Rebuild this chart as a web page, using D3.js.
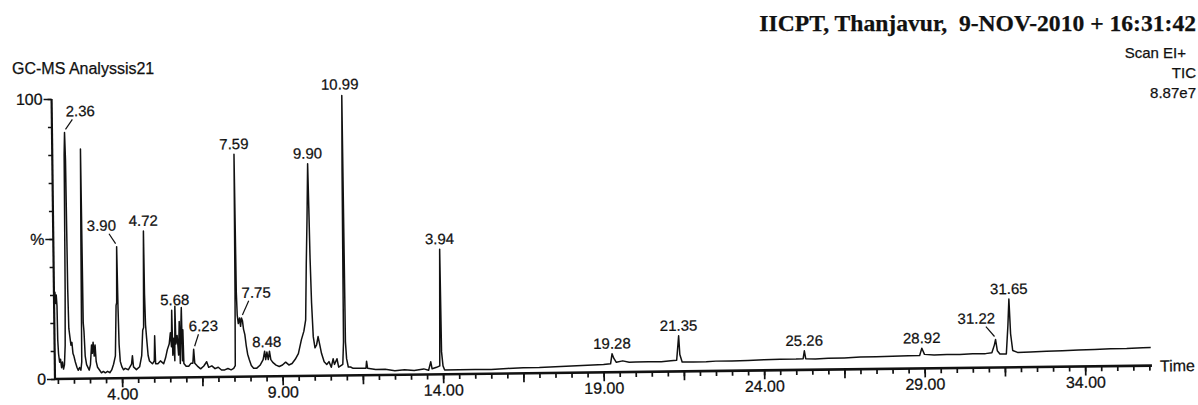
<!DOCTYPE html>
<html>
<head>
<meta charset="utf-8">
<script src="https://cdn.jsdelivr.net/npm/d3@7"></script>
<style>
  body { margin: 0; background: #fff; }
  svg { display: block; }
  text { fill: #111; stroke: #111; stroke-width: 0.25px; }
</style>
</head>
<body>
<div id="chart"></div>
<script>
// chromatogram trace: retention time (min) / relative abundance (%)
const traceTime = [
  1.92, 1.94, 1.96, 1.98, 2.00, 2.01, 2.03, 2.06, 2.09, 2.12, 2.15, 2.18, 2.21,
  2.24, 2.26, 2.28, 2.30, 2.32, 2.34, 2.36, 2.39, 2.42, 2.45, 2.48, 2.51, 2.55,
  2.60, 2.64, 2.68, 2.72, 2.75, 2.77, 2.79, 2.81, 2.83, 2.86, 2.90, 2.94, 2.98,
  3.02, 3.06, 3.08, 3.11, 3.14, 3.17, 3.20, 3.24, 3.30, 3.36, 3.42, 3.48, 3.55,
  3.62, 3.68, 3.74, 3.80, 3.84, 3.86, 3.88, 3.90, 3.92, 3.95, 4.00, 4.05, 4.10,
  4.20, 4.30, 4.33, 4.36, 4.45, 4.55, 4.62, 4.66, 4.69, 4.71, 4.72, 4.73, 4.75,
  4.78, 4.82, 4.86, 4.95, 5.01, 5.03, 5.05, 5.12, 5.20, 5.30, 5.36, 5.42, 5.48,
  5.52, 5.55, 5.57, 5.59, 5.62, 5.65, 5.67, 5.69, 5.73, 5.77, 5.80, 5.82, 5.85,
  5.87, 5.89, 5.91, 5.93, 6.00, 6.08, 6.15, 6.21, 6.24, 6.27, 6.35, 6.45, 6.55,
  6.64, 6.70, 6.80, 6.90, 7.00, 7.10, 7.20, 7.30, 7.40, 7.48, 7.53, 7.55, 7.57,
  7.59, 7.61, 7.64, 7.68, 7.71, 7.74, 7.77, 7.80, 7.84, 7.88, 7.92, 7.97, 8.03,
  8.10, 8.20, 8.30, 8.40, 8.45, 8.48, 8.52, 8.56, 8.60, 8.64, 8.70, 8.80, 8.90,
  9.00, 9.10, 9.20, 9.30, 9.40, 9.50, 9.60, 9.68, 9.74, 9.78, 9.82, 9.86, 9.88,
  9.90, 9.93, 9.97, 10.02, 10.07, 10.12, 10.17, 10.22, 10.30, 10.38, 10.45, 10.52,
  10.58, 10.62, 10.70, 10.75, 10.88, 10.91, 10.93, 10.95, 10.97, 11.00, 11.05,
  11.12, 11.20, 11.40, 11.60, 11.62, 11.65, 11.90, 12.20, 12.50, 12.80, 13.10,
  13.40, 13.55, 13.62, 13.66, 13.80, 13.90, 13.94, 13.96, 14.00, 14.05, 14.50,
  15.00, 15.50, 16.00, 16.50, 17.00, 17.50, 18.00, 18.50, 19.00, 19.22, 19.27,
  19.32, 19.40, 19.60, 19.80, 20.00, 20.40, 20.80, 21.10, 21.28, 21.35, 21.38,
  21.45, 21.80, 22.20, 22.50, 23.00, 23.50, 24.00, 24.50, 25.00, 25.22, 25.26,
  25.30, 25.60, 26.00, 26.50, 27.00, 27.50, 28.00, 28.50, 28.85, 28.92, 29.00,
  29.30, 29.70, 30.10, 30.50, 30.90, 31.10, 31.18, 31.22, 31.27, 31.35, 31.55,
  31.61, 31.65, 31.69, 31.75, 31.90, 32.30, 32.80, 33.30, 33.80, 34.30, 34.80,
  35.30, 35.80, 36.05
];
const traceAbund = [
  29, 31, 27, 30, 26, 14, 9, 6, 7, 4, 6, 3.5, 5,
  12, 32, 80, 88, 78, 32, 18, 15, 12, 13, 9, 8, 6,
  4, 3, 4, 3, 6, 50, 82, 20, 17, 8, 5, 4, 3,
  5, 12, 9, 13, 8, 12, 6, 4, 3, 2, 2.5, 2, 2.5,
  2, 3, 5, 8, 26, 27, 47, 25, 12, 6, 4, 3, 3.5,
  3, 5, 8, 4, 3, 4, 8, 17, 18, 43, 52.5, 30, 19,
  14, 8, 6, 5, 6, 15, 5, 5, 6, 5, 7, 10, 12,
  16, 11, 24, 8, 14, 6, 25.5, 12, 15, 8, 20, 5, 18,
  25, 6, 17, 5, 4, 4, 5, 5, 10, 5, 4, 3, 4,
  5.5, 3.5, 4, 3, 3.5, 2.5, 2.5, 3, 2.5, 3, 4, 30, 79.5,
  30, 22, 19, 21, 18, 21, 20, 17, 15, 11, 8, 6, 4,
  3, 3, 4, 6, 9, 6, 8.7, 6, 9, 6, 5, 4, 3.5,
  4, 5, 4, 4.5, 6, 8, 13, 16, 20, 40, 56, 75.8, 60,
  42, 26, 14, 10, 11, 14, 11, 8, 5, 4, 5, 3,
  6, 4, 6, 3, 4, 12, 73, 100, 12, 6, 3,
  3, 2.5, 2.5, 2.5, 5, 2.5, 2, 2, 1.5, 1.8, 1.5,
  2, 1.5, 4.5, 2, 2.5, 3, 44.7, 8, 3, 1.5, 1.5,
  1.6, 1.5, 1.8, 2, 2, 2.2, 2.4, 2.6, 2.8, 3, 6.6,
  5, 3.5, 4, 3.5, 3.5, 3.6, 3.5, 3.8, 4, 12.7, 6,
  3.3, 3.3, 3.3, 3.5, 3.5, 3.6, 3.8, 3.9, 3.9, 4, 6.8,
  4, 3.8, 4, 4.1, 4.3, 4.4, 4.5, 4.6, 4.6, 7.2, 5,
  4.7, 4.9, 4.8, 5, 5, 5.3, 8, 10, 6, 4.8, 4.8,
  15, 24.4, 12, 6, 5.3, 5.4, 5.6, 5.7, 5.9, 6, 6.2,
  6.2, 6.4, 6.5
];

// labelled peaks: printed label and the retention time of the peak it marks
const peakLabels = ["2.36", "3.90", "4.72", "5.68", "6.23", "7.59", "7.75", "8.48", "9.90",
                    "10.99", "3.94", "19.28", "21.35", "25.26", "28.92", "31.22", "31.65"];
const peakTimes  = [2.30, 3.88, 4.72, 5.67, 6.24, 7.57, 7.74, 8.52, 9.86,
                    10.95, 13.94, 19.27, 21.35, 25.26, 28.92, 31.22, 31.65];

const xTickValues = [4, 9, 14, 19, 24, 29, 34];
const xTickLabels = ["4.00", "9.00", "14.00", "19.00", "24.00", "29.00", "34.00"];
const yTickValues = [0, 50, 100];
const yTickLabels = ["0", "%", "100"];

const title = "IICPT, Thanjavur,  9-NOV-2010 + 16:31:42";
const runName = "GC-MS Analyssis21";
const scanInfo = ["Scan EI+", "TIC", "8.87e7"];

// ---- layout
const W = 1198, H = 405;
const origin = {x: 55, y: 379};
const plotW = 1097, plotH = 280;

const svg = d3.select("#chart").append("svg")
  .attr("width", W).attr("height", H)
  .style("font-family", "'Liberation Sans', Arial, sans-serif");

// header texts (not on the tilted plot)
svg.append("text")
  .attr("x", 1196).attr("y", 31)
  .attr("text-anchor", "end")
  .style("font-family", "'Liberation Serif', 'Times New Roman', serif")
  .style("font-weight", "bold")
  .style("font-size", "23.6px")
  .style("white-space", "pre")
  .text(title);

svg.append("text")
  .attr("x", 12).attr("y", 74)
  .style("font-size", "16px")
  .text(runName);

svg.append("g").selectAll("text")
  .data(scanInfo)
  .join("text")
    .attr("x", (d, i) => i === 0 ? 1186 : 1196)
    .attr("y", (d, i) => 58 + i * 20)
    .attr("text-anchor", "end")
    .style("font-size", "15px")
    .text(d => d);

// the scanned plot is slightly tilted
const plot = svg.append("g")
  .attr("transform", `translate(${origin.x},${origin.y}) rotate(-0.7)`);

const x = d3.scaleLinear().domain([1.91, 36.08]).range([0, plotW]);
const y = d3.scaleLinear().domain([0, 100]).range([0, -plotH]);

const trace = traceTime.map((t, i) => ({t: t, v: traceAbund[i]}));

// x axis: minor ticks every 0.5, long ticks every 2.5, labels every 5
plot.append("g")
  .call(d3.axisBottom(x).tickValues(d3.range(2, 36.01, 0.5)).tickSize(5).tickFormat(""))
  .call(g => g.select(".domain").remove())
  .call(g => g.selectAll("line").attr("stroke", "#111").attr("stroke-width", 1.7));
plot.append("g")
  .call(d3.axisBottom(x).tickValues(d3.range(4, 34.01, 2.5)).tickSize(9).tickPadding(1)
    .tickFormat(d => {
      const k = xTickValues.indexOf(d);
      return k < 0 ? "" : xTickLabels[k];
    }))
  .call(g => g.select(".domain").remove())
  .call(g => g.selectAll("line").attr("stroke", "#111").attr("stroke-width", 1.7))
  .call(g => g.selectAll("text").style("font-size", "16px").attr("fill", "#111")
    .style("font-family", "'Liberation Sans', Arial, sans-serif"));

// y axis: minor every 10 %, labelled 0 / % / 100
plot.append("g")
  .call(d3.axisLeft(y).tickValues(d3.range(0, 101, 10)).tickSize(4).tickFormat(""))
  .call(g => g.select(".domain").remove())
  .call(g => g.selectAll("line").attr("stroke", "#111").attr("stroke-width", 1.5));
plot.append("g")
  .call(d3.axisLeft(y).tickValues(yTickValues).tickSize(8).tickPadding(1)
    .tickFormat(d => yTickLabels[yTickValues.indexOf(d)]))
  .call(g => g.select(".domain").remove())
  .call(g => g.selectAll("line").attr("stroke", "#111").attr("stroke-width", 1.5))
  .call(g => g.selectAll("text").style("font-size", "16px").attr("fill", "#111")
    .style("font-family", "'Liberation Sans', Arial, sans-serif"));

// axis lines
plot.append("line")
  .attr("x1", x.range()[0]).attr("x2", x.range()[1])
  .attr("y1", 0).attr("y2", 0)
  .attr("stroke", "#111").attr("stroke-width", 2.6);
plot.append("line")
  .attr("x1", 0).attr("x2", 0)
  .attr("y1", y(0) + 1).attr("y2", y(100))
  .attr("stroke", "#111").attr("stroke-width", 2.2);

plot.append("text")
  .attr("x", x.range()[1] + 8).attr("y", 6)
  .style("font-size", "16px")
  .text("Time");

// trace
const line = d3.line()
  .x(d => x(d.t))
  .y(d => y(d.v));

plot.append("path")
  .datum(trace)
  .attr("fill", "none")
  .attr("stroke", "#111")
  .attr("stroke-width", 1.5)
  .attr("stroke-linejoin", "round")
  .attr("d", line);

// peak labels, some pushed aside with a short leader
const nudge = {
  "2.36":  {dx: 16, dy: -16, lead: true},
  "3.90":  {dx: -15, dy: -16, lead: true},
  "6.23":  {dx: 10, dy: -18, lead: true},
  "7.75":  {dx: 15, dy: -20, lead: true},
  "31.22": {dx: -19, dy: -16, lead: true},
  "5.68":  {dx: 0, dy: -1},
  "10.99": {dx: -2, dy: -6}
};

const peaks = peakLabels.map((lab, i) => {
  const t = peakTimes[i];
  const near = trace.filter(d => Math.abs(d.t - t) < 0.025);
  return {label: lab, t: t, v: d3.max(near, d => d.v)};
});

const pl = plot.append("g").selectAll("g")
  .data(peaks)
  .join("g")
    .attr("transform", d => `translate(${x(d.t)},${y(d.v)})`);

pl.append("text")
  .attr("x", d => (nudge[d.label] || {}).dx || 0)
  .attr("y", d => (nudge[d.label] || {}).dy || -5)
  .attr("text-anchor", "middle")
  .style("font-size", "15px")
  .text(d => d.label);

pl.filter(d => nudge[d.label] && nudge[d.label].lead)
  .append("line")
    .attr("x1", d => Math.sign(nudge[d.label].dx) * 1)
    .attr("y1", -3)
    .attr("x2", d => nudge[d.label].dx * 0.5)
    .attr("y2", d => nudge[d.label].dy + 3)
    .attr("stroke", "#111")
    .attr("stroke-width", 1.2);
</script>
</body>
</html>
